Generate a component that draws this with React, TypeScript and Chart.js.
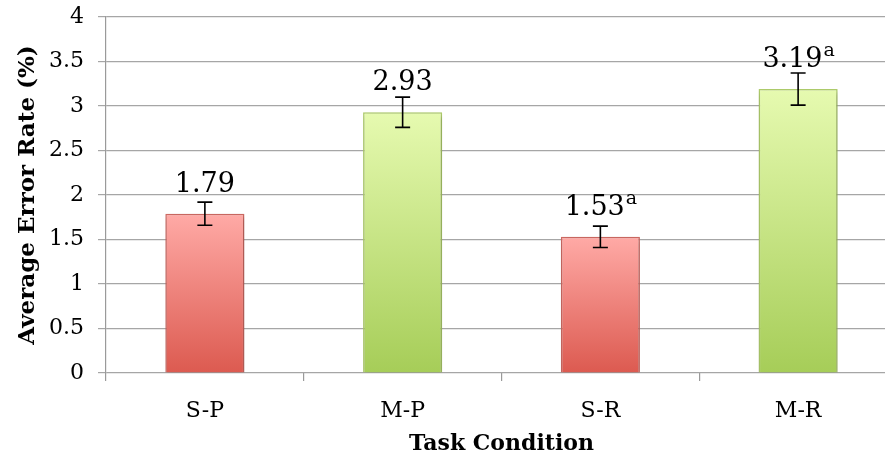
import React, { useEffect, useRef } from "react";
import { Chart, registerables } from "chart.js";

Chart.register(...registerables);

const categories = ["S-P", "M-P", "S-R", "M-R"];
const values = [1.79, 2.93, 1.53, 3.19];
const errors = [0.13, 0.17, 0.12, 0.18];
const valueLabels = ["1.79", "2.93", "1.53", "3.19"];
const superscripts = ["", "", "a", "a"];
const yTicks = [0, 0.5, 1, 1.5, 2, 2.5, 3, 3.5, 4];
const yTitle = "Average Error Rate (%)";
const xTitle = "Task Condition";

const FONT = "'DejaVu Serif', serif";
const RED = { top: "#ffaaa6", bottom: "#dc5a50", border: "#cf6a63" };
const GREEN = { top: "#e6fab0", bottom: "#a6cd58", border: "#afcd6c" };
const palette = [RED, GREEN, RED, GREEN];

const shadowPlugin = {
  id: "barShadow",
  beforeDatasetsDraw(chart: any) {
    const c = chart.ctx;
    c.save();
    c.shadowColor = "rgba(0,0,0,0.3)";
    c.shadowBlur = 5;
    c.shadowOffsetX = 1;
    c.shadowOffsetY = 2;
  },
  afterDatasetsDraw(chart: any) {
    chart.ctx.restore();
  },
};

const errorAndLabelPlugin = {
  id: "errorAndLabels",
  afterDraw(chart: any) {
    const c = chart.ctx;
    const meta = chart.getDatasetMeta(0);
    const ys = chart.scales.y;
    meta.data.forEach((el: any, i: number) => {
      const x = el.x;
      const yHi = ys.getPixelForValue(values[i] + errors[i]);
      const yLo = ys.getPixelForValue(values[i] - errors[i]);
      c.save();
      c.strokeStyle = "#000";
      c.lineWidth = 1.6;
      c.beginPath();
      c.moveTo(x, yHi);
      c.lineTo(x, yLo);
      c.moveTo(x - 7.5, yHi);
      c.lineTo(x + 7.5, yHi);
      c.moveTo(x - 7.5, yLo);
      c.lineTo(x + 7.5, yLo);
      c.stroke();
      // label
      const base = el.y - 22;
      c.fillStyle = "#000";
      c.textBaseline = "alphabetic";
      c.font = `27px ${FONT}`;
      const w1 = c.measureText(valueLabels[i]).width;
      c.font = `19px ${FONT}`;
      const w2 = superscripts[i] ? c.measureText(superscripts[i]).width : 0;
      const start = x - (w1 + w2) / 2;
      c.textAlign = "left";
      c.font = `27px ${FONT}`;
      c.fillText(valueLabels[i], start, base);
      if (superscripts[i]) {
        c.font = `19px ${FONT}`;
        c.fillText(superscripts[i], start + w1 + 1, base - 11);
      }
      c.restore();
    });
  },
};

export default function App() {
  const ref = useRef<HTMLCanvasElement>(null);
  useEffect(() => {
    if (!ref.current) return;
    const chart = new Chart(ref.current, {
      type: "bar",
      data: {
        labels: categories,
        datasets: [
          {
            data: values,
            backgroundColor: (ctx: any) => {
              const chart = ctx.chart;
              const i = ctx.dataIndex;
              const p = palette[i % palette.length];
              if (!chart.chartArea || !chart.scales.y) return p.top;
              const top = chart.scales.y.getPixelForValue(values[i]);
              const bottom = chart.scales.y.getPixelForValue(0);
              const g = chart.ctx.createLinearGradient(0, top, 0, bottom);
              g.addColorStop(0, p.top);
              g.addColorStop(1, p.bottom);
              return g;
            },
            borderColor: categories.map((_, i) => palette[i % palette.length].border),
            borderWidth: 1.5,
            barPercentage: 0.8,
            categoryPercentage: 0.5,
          },
        ],
      },
      options: {
        responsive: false,
        animation: false,
        devicePixelRatio: 1,
        layout: { padding: { top: 17, right: 0, left: 0, bottom: 0 } },
        plugins: {
          legend: { display: false },
          tooltip: { enabled: false },
        },
        scales: {
          x: {
            grid: {
              offset: true,
              drawOnChartArea: false,
              drawTicks: true,
              tickLength: 8,
              color: "#9a9a9a",
              lineWidth: 1.2,
            },
            border: { display: false },
            ticks: {
              color: "#000",
              font: { family: FONT, size: 22 },
              padding: 17,
            },
            title: {
              display: true,
              text: xTitle,
              color: "#000",
              font: { family: FONT, size: 22, weight: "bold" },
              padding: { top: 0, bottom: 4 },
            },
            afterFit(scale: any) {
              scale.height = 88;
              scale.paddingLeft = 0;
              scale.paddingRight = 0;
            },
          },
          y: {
            min: 0,
            max: 4,
            afterBuildTicks(scale: any) {
              scale.ticks = yTicks.map((v) => ({ value: v }));
            },
            grid: {
              color: "#a6a6a6",
              lineWidth: 1.2,
              tickLength: 8,
            },
            border: { display: true, color: "#9a9a9a", width: 1.2 },
            ticks: {
              color: "#000",
              font: { family: FONT, size: 22 },
              padding: 14,
              callback: (v: any) => String(v),
            },
            title: {
              display: true,
              text: yTitle,
              color: "#000",
              font: { family: FONT, size: 23, weight: "bold" },
              padding: { top: 14, bottom: 0 },
            },
            afterFit(scale: any) {
              scale.width = 106;
              scale.paddingTop = 0;
              scale.paddingBottom = 0;
            },
          },
        },
      },
      plugins: [shadowPlugin, errorAndLabelPlugin],
    } as any);
    return () => chart.destroy();
  }, []);
  return (
    <div
      style={{
        position: "fixed",
        left: 0,
        top: 0,
        width: 885,
        height: 461,
        overflow: "hidden",
        background: "#fff",
      }}
    >
      <canvas ref={ref} width={897} height={461} style={{ width: 897, height: 461 }} />
    </div>
  );
}
